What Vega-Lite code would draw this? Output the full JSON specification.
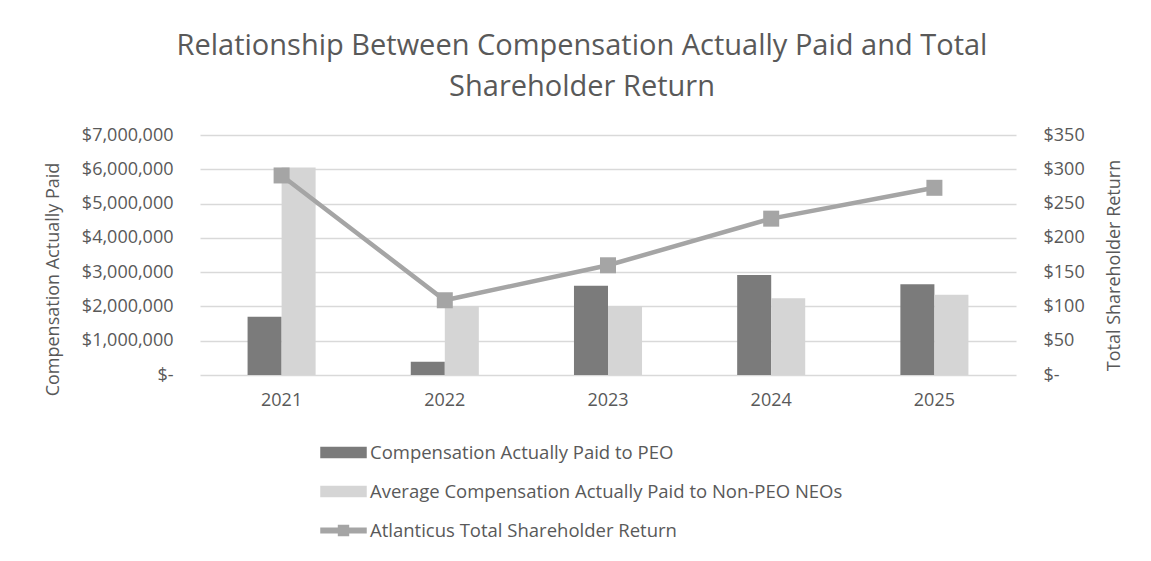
{
  "$schema": "https://vega.github.io/schema/vega-lite/v6.json",
  "autosize": "none",
  "width": 816,
  "height": 240,
  "padding": {"left": 200, "top": 135, "right": 135, "bottom": 186},
  "background": "white",
  "config": {
    "font": "Open Sans",
    "view": {"stroke": null},
    "axis": {"labelColor": "#595959", "titleColor": "#595959", "labelFont": "Open Sans", "titleFont": "Open Sans", "titleFontWeight": "normal"}
  },
  "title": {
    "text": ["Relationship Between Compensation Actually Paid and Total", "Shareholder Return"],
    "fontSize": 29,
    "font": "Open Sans",
    "fontWeight": "normal",
    "color": "#595959",
    "anchor": "middle",
    "dx": -26,
    "offset": 24,
    "lineHeight": 41
  },
  "datasets": {
    "comp": [
      {"year": "2021", "series": "Compensation Actually Paid to PEO", "value": 1700000},
      {"year": "2021", "series": "Average Compensation Actually Paid to Non-PEO NEOs", "value": 6050000},
      {"year": "2022", "series": "Compensation Actually Paid to PEO", "value": 390000},
      {"year": "2022", "series": "Average Compensation Actually Paid to Non-PEO NEOs", "value": 2010000},
      {"year": "2023", "series": "Compensation Actually Paid to PEO", "value": 2600000},
      {"year": "2023", "series": "Average Compensation Actually Paid to Non-PEO NEOs", "value": 2010000},
      {"year": "2024", "series": "Compensation Actually Paid to PEO", "value": 2920000},
      {"year": "2024", "series": "Average Compensation Actually Paid to Non-PEO NEOs", "value": 2240000},
      {"year": "2025", "series": "Compensation Actually Paid to PEO", "value": 2650000},
      {"year": "2025", "series": "Average Compensation Actually Paid to Non-PEO NEOs", "value": 2340000}
    ],
    "tsr": [
      {"year": "2021", "series": "Atlanticus Total Shareholder Return", "tsr": 291},
      {"year": "2022", "series": "Atlanticus Total Shareholder Return", "tsr": 109},
      {"year": "2023", "series": "Atlanticus Total Shareholder Return", "tsr": 160},
      {"year": "2024", "series": "Atlanticus Total Shareholder Return", "tsr": 228},
      {"year": "2025", "series": "Atlanticus Total Shareholder Return", "tsr": 273}
    ]
  },
  "encoding": {
    "x": {
      "field": "year",
      "type": "nominal",
      "scale": {"paddingInner": 0.583, "paddingOuter": 0.2915},
      "axis": {"title": null, "labelAngle": 0, "labelFontSize": 18, "labelPadding": 16, "domain": false, "ticks": false}
    }
  },
  "layer": [
    {
      "data": {"name": "comp"},
      "mark": {"type": "bar"},
      "encoding": {
        "xOffset": {"field": "series", "type": "nominal", "scale": {"domain": ["Compensation Actually Paid to PEO", "Average Compensation Actually Paid to Non-PEO NEOs"], "paddingInner": 0, "paddingOuter": 0}},
        "y": {
          "field": "value",
          "type": "quantitative",
          "scale": {"domain": [0, 7000000], "nice": false},
          "axis": {
            "title": "Compensation Actually Paid",
            "titleFontSize": 18,
            "titleAngle": -90,
            "titleX": -147,
            "titleY": 144,
            "titleAlign": "center",
            "titleBaseline": "middle",
            "values": [0, 1000000, 2000000, 3000000, 4000000, 5000000, 6000000, 7000000],
            "labelExpr": "datum.value == 0 ? '$-\u00a0\u00a0' : '$' + format(datum.value, ',')",
            "labelFontSize": 18,
            "labelPadding": 27,
            "domain": false,
            "ticks": false,
            "grid": true,
            "gridColor": "#d9d9d9",
            "gridWidth": 1.3
          }
        },
        "color": {
          "field": "series",
          "type": "nominal",
          "scale": {
            "domain": ["Compensation Actually Paid to PEO", "Average Compensation Actually Paid to Non-PEO NEOs", "Atlanticus Total Shareholder Return"],
            "range": ["#7b7b7b", "#d5d5d5", "#a5a5a5"]
          },
          "legend": {
            "title": null,
            "orient": "none",
            "legendX": 120,
            "legendY": 294,
            "direction": "vertical",
            "labelFontSize": 18.5,
            "labelColor": "#595959",
            "labelFont": "Open Sans",
            "labelLimit": 0,
            "symbolSize": 2025,
            "labelOffset": 3,
            "rowPadding": 6,
            "encode": {
              "symbols": {
                "update": {
                  "shape": {"signal": "datum.value === 'Atlanticus Total Shareholder Return' ? 'M-1,-0.1H1V0.1H-1Z M-0.22,-0.22H0.22V0.22H-0.22Z' : 'M-1,-0.22H1V0.22H-1Z'"},
                  "fill": {"signal": "scale('color', datum.value)"},
                  "stroke": {"value": "transparent"},
                  "opacity": {"value": 1}
                }
              }
            }
          }
        }
      }
    },
    {
      "data": {"name": "tsr"},
      "encoding": {
        "y": {
          "field": "tsr",
          "type": "quantitative",
          "scale": {"domain": [0, 350], "nice": false},
          "axis": {
            "orient": "right",
            "title": "Total Shareholder Return",
            "titleFontSize": 18,
            "titleAngle": -90,
            "titleX": 98,
            "titleY": 130,
            "titleAlign": "center",
            "titleBaseline": "middle",
            "values": [0, 50, 100, 150, 200, 250, 300, 350],
            "labelExpr": "datum.value == 0 ? '$-' : '$' + format(datum.value, ',')",
            "labelFontSize": 18,
            "labelPadding": 27,
            "domain": false,
            "ticks": false,
            "grid": false
          }
        },
        "color": {"field": "series", "type": "nominal"}
      },
      "layer": [
        {"mark": {"type": "line", "strokeWidth": 4.5}},
        {"mark": {"type": "point", "shape": "square", "filled": true, "size": 256, "opacity": 1}}
      ]
    }
  ],
  "resolve": {"scale": {"y": "independent"}}
}
